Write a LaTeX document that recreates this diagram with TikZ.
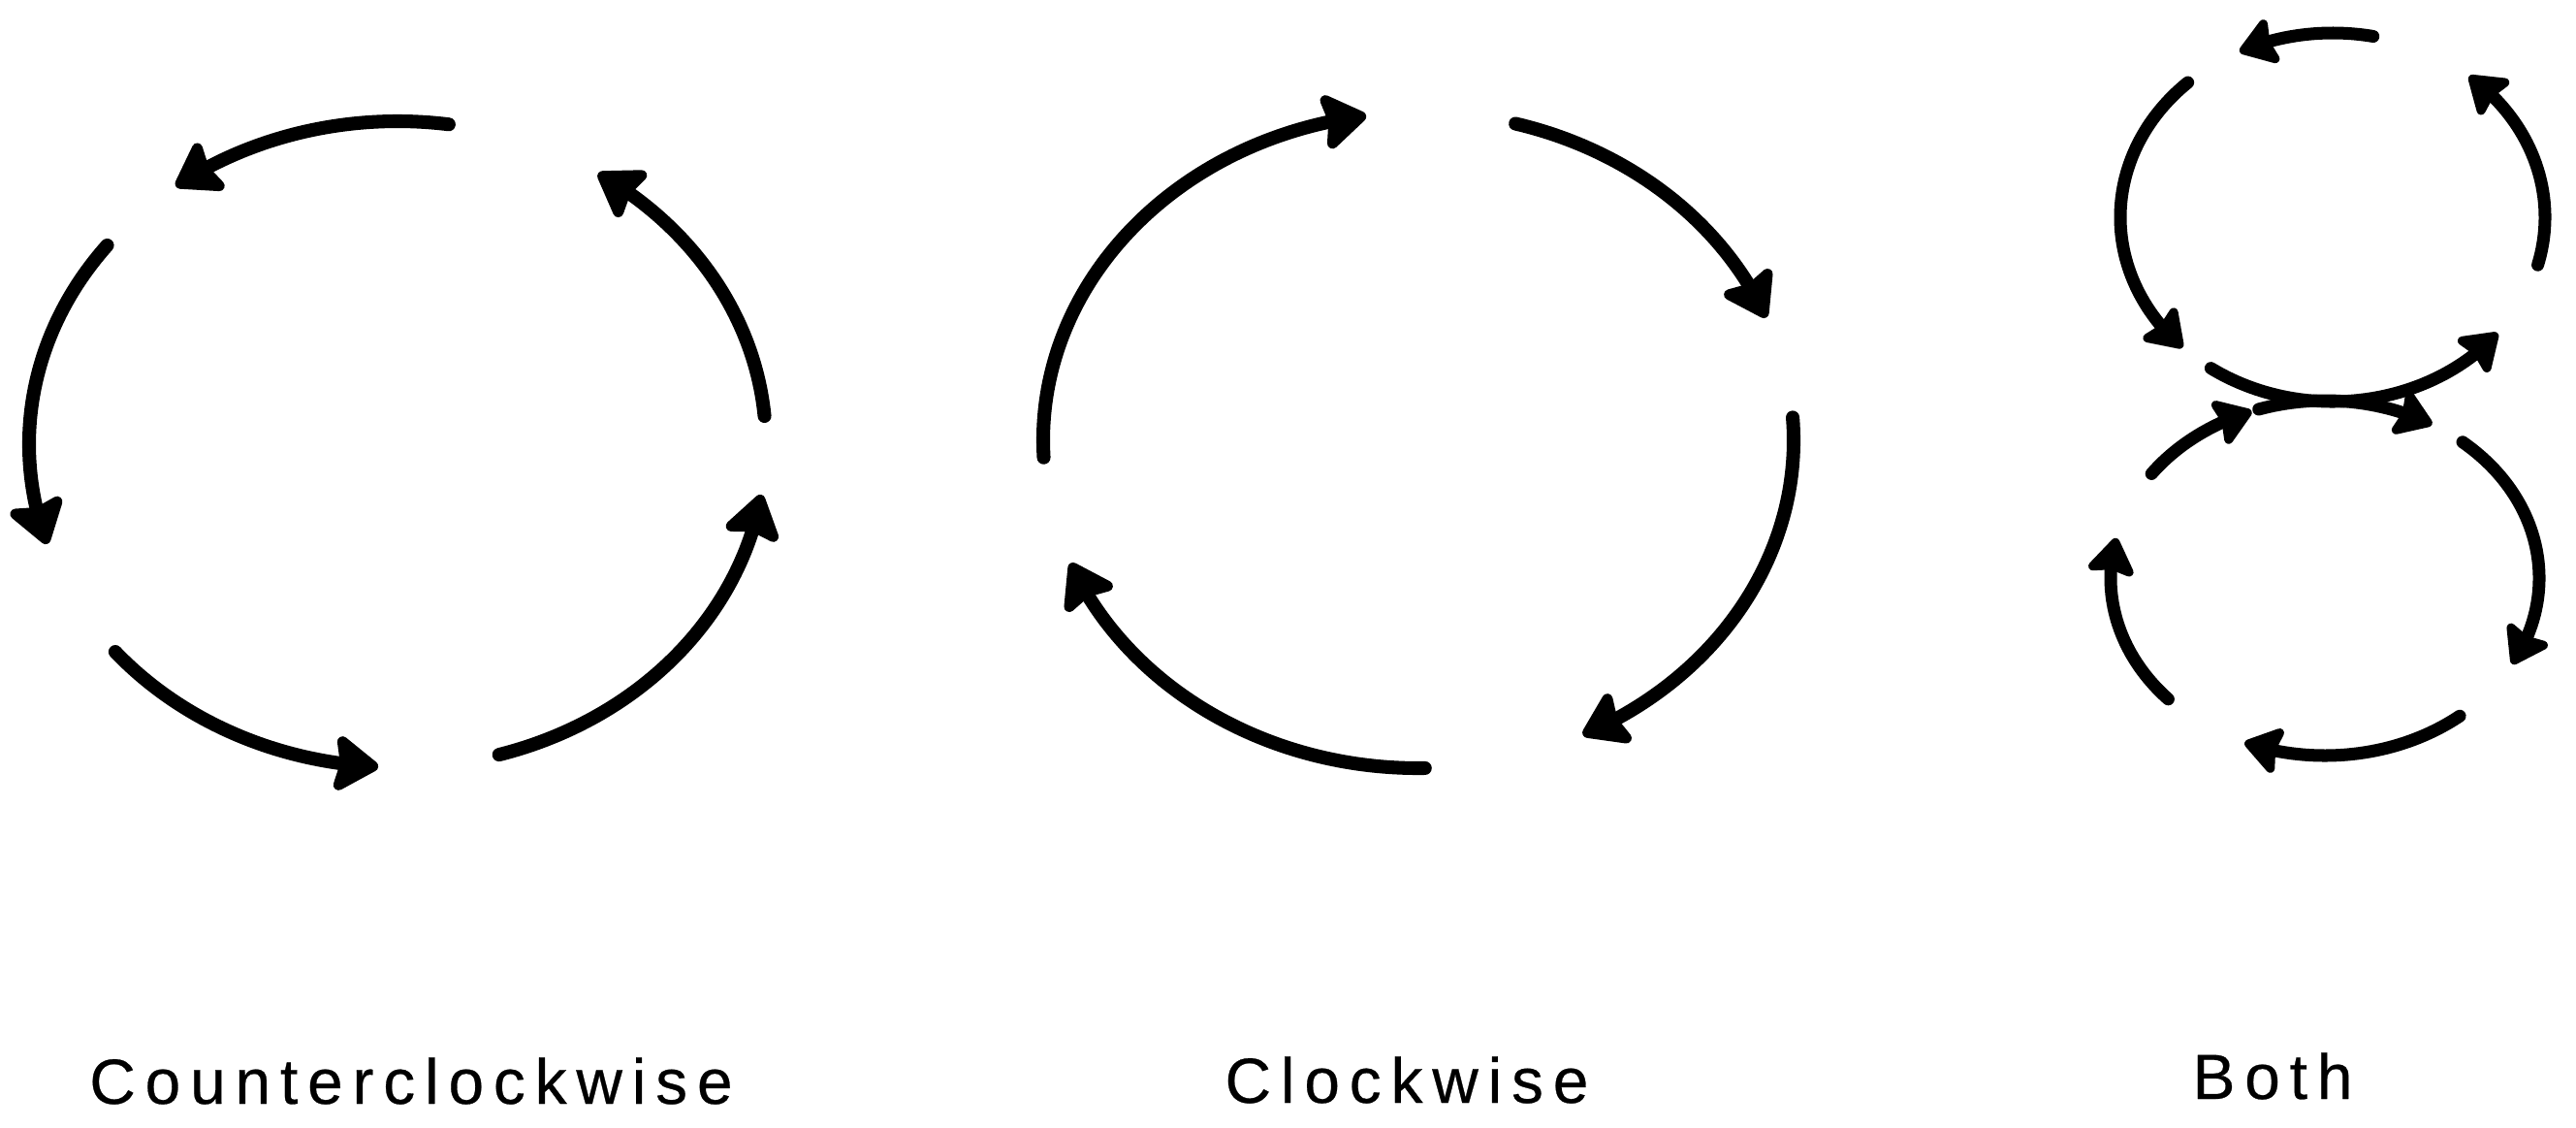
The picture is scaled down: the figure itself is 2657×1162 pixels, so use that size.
\documentclass[tikz,border=0pt]{standalone}
\usepackage{fontspec}
\newfontfamily\lblfont{Liberation Sans}[LetterSpace=15,FakeBold=0.4]
\usetikzlibrary{arrows.meta,bending,calc}
\tikzset{
  every picture/.style={line join=round, line cap=round, >=Stealth},
  sweep/.style={line width=4pt, -{Stealth[length=14.5pt,width=19pt,inset=2pt,round]}},
  sweepsm/.style={line width=3.7pt, -{Stealth[length=12pt,width=16pt,inset=1.6pt,round]}},
  lbl/.style={anchor=base, font=\lblfont\fontsize{18.7}{22}\selectfont},
}
\begin{document}
\begin{tikzpicture}[x=0.01cm,y=0.01cm]
\useasboundingbox (0,0) rectangle (2657,1162);
% centres of the loops
\coordinate (ccw) at (410,704);
\coordinate (cw) at (1463,708);
\coordinate (upper) at (2406,938);
\coordinate (lower) at (2398,566);
% counterclockwise
\foreach \a/\b in {82/127,142/198,220/267,286/351,5/57}
  \draw[sweep] ($(ccw)+(\a:380 and 333)$) arc[start angle=\a,end angle=\b,x radius=380,y radius=333];
% clockwise
\foreach \a/\b in {183/98,75/22,4/-64,-89/-158}
  \draw[sweep] ($(cw)+(\a:387 and 338)$) arc[start angle=\a,end angle=\b,x radius=387,y radius=338];
% both: upper loop turns left, lower loop turns right
\foreach \a/\b in {79/116,133/225,235/321,-15/50}
  \draw[sweepsm] ($(upper)+(\a:219 and 190)$) arc[start angle=\a,end angle=\b,x radius=219,y radius=190];
\foreach \a/\b in {144/110,108/60,50/-29,-51/-112,223/167}
  \draw[sweepsm] ($(lower)+(\a:221 and 183)$) arc[start angle=\a,end angle=\b,x radius=221,y radius=183];
\node[lbl] (ccwlabel) at (424,24) {Counterclockwise};
\node[lbl] (cwlabel) at (1451,25) {Clockwise};
\node[lbl] (bothlabel) at (2344,29) {Both};
\end{tikzpicture}
\end{document}
